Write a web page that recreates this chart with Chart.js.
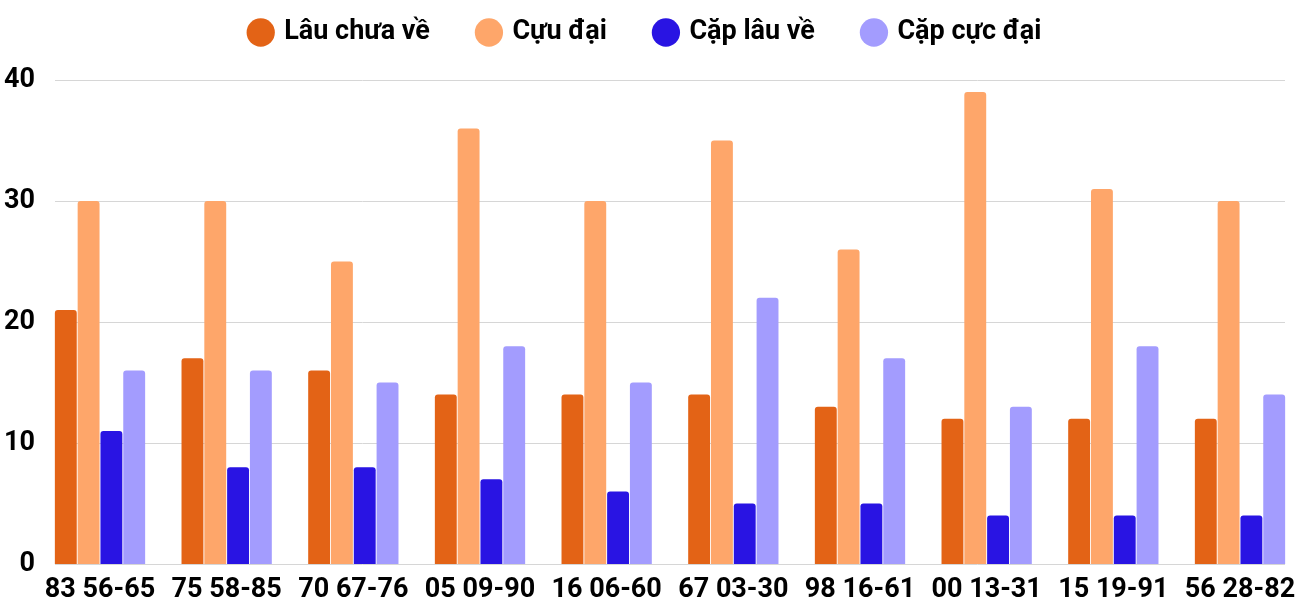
<!DOCTYPE html>
<html>
<head>
<meta charset="utf-8">
<script src="https://cdn.jsdelivr.net/npm/chart.js@4"></script>
<style>
  body { margin: 0; background: #fff; }
  #wrap { width: 1300px; height: 600px; }
</style>
</head>
<body>
<div id="wrap"><canvas id="chart"></canvas></div>
<script>
const categories = ['83 56-65', '75 58-85', '70 67-76', '05 09-90', '16 06-60', '67 03-30', '98 16-61', '00 13-31', '15 19-91', '56 28-82'];
const lauChuaVe = [21, 17, 16, 14, 14, 14, 13, 12, 12, 12];
const cucDai = [30, 30, 25, 36, 30, 35, 26, 39, 31, 30];
const capLauVe = [11, 8, 8, 7, 6, 5, 5, 4, 4, 4];
const capCucDai = [16, 16, 15, 18, 15, 22, 17, 13, 18, 14];
const yTicks = [0, 10, 20, 30, 40];

// horizontal grid lines wider than the chart area
const gridPlugin = {
  id: 'wideGrid',
  beforeDatasetsDraw(chart) {
    const ctx = chart.ctx;
    const y = chart.scales.y;
    ctx.save();
    ctx.strokeStyle = '#d6d6d6';
    ctx.lineWidth = 1;
    yTicks.forEach(v => {
      const py = Math.round(y.getPixelForValue(v)) + 0.5;
      ctx.beginPath();
      ctx.moveTo(55, py);
      ctx.lineTo(1285, py);
      ctx.stroke();
    });
    ctx.restore();
  }
};

// fixed legend block height + shifted drawing, so the wide item padding doesn't push the plot down
const legendFit = {
  id: 'legendFit',
  beforeLayout(chart) {
    const lg = chart.legend;
    if (lg && !lg._wrapped) {
      const fit = lg.fit;
      const draw = lg.draw;
      lg.fit = function () { fit.call(this); this.height = 80; };
      lg.draw = function () {
        const ctx = this.ctx;
        ctx.save();
        ctx.translate(26, -30);
        draw.call(this);
        ctx.restore();
      };
      lg._wrapped = true;
    }
  }
};

const bar = (label, data, color) => ({
  label, data,
  backgroundColor: color,
  borderRadius: 3,
  borderSkipped: 'start',
  clip: false,
  categoryPercentage: 0.72,
  barPercentage: 0.96
});

const font = { family: 'Roboto', size: 27, weight: 'bold', lineHeight: 1 };

new Chart(document.getElementById('chart'), {
  type: 'bar',
  data: {
    labels: categories,
    datasets: [
      bar('Lâu chưa về', lauChuaVe, '#E36316'),
      bar('Cựu đại', cucDai, '#FEA66A'),
      bar('Cặp lâu về', capLauVe, '#2914E3'),
      bar('Cặp cực đại', capCucDai, '#A39CFE')
    ]
  },
  options: {
    responsive: true,
    maintainAspectRatio: false,
    animation: false,
    layout: { padding: { top: 0, right: 60, bottom: 0, left: 0 } },
    plugins: {
      legend: {
        position: 'top',
        labels: {
          usePointStyle: true,
          pointStyle: 'circle',
          boxWidth: 20,
          boxHeight: 20,
          padding: 49,
          color: '#000',
          font: font
        }
      },
      tooltip: { enabled: false }
    },
    scales: {
      x: {
        offset: false,
        afterFit(scale) {
          scale.height = 36;
          scale.paddingLeft = 0;
          scale.paddingRight = 0;
        },
        grid: { display: false, drawTicks: false },
        border: { display: false },
        ticks: {
          color: '#000',
          padding: 13,
          maxRotation: 0,
          autoSkip: false,
          font: font
        }
      },
      y: {
        min: 0,
        max: 40,
        afterFit(scale) {
          scale.width = 100;
          scale.paddingTop = 14;
          scale.paddingBottom = 14;
        },
        afterBuildTicks(scale) { scale.ticks = yTicks.map(v => ({ value: v })); },
        grid: { display: false, drawTicks: false },
        border: { display: false },
        ticks: {
          color: '#000',
          padding: 65,
          font: font
        }
      }
    }
  },
  plugins: [gridPlugin, legendFit]
});
</script>
</body>
</html>
